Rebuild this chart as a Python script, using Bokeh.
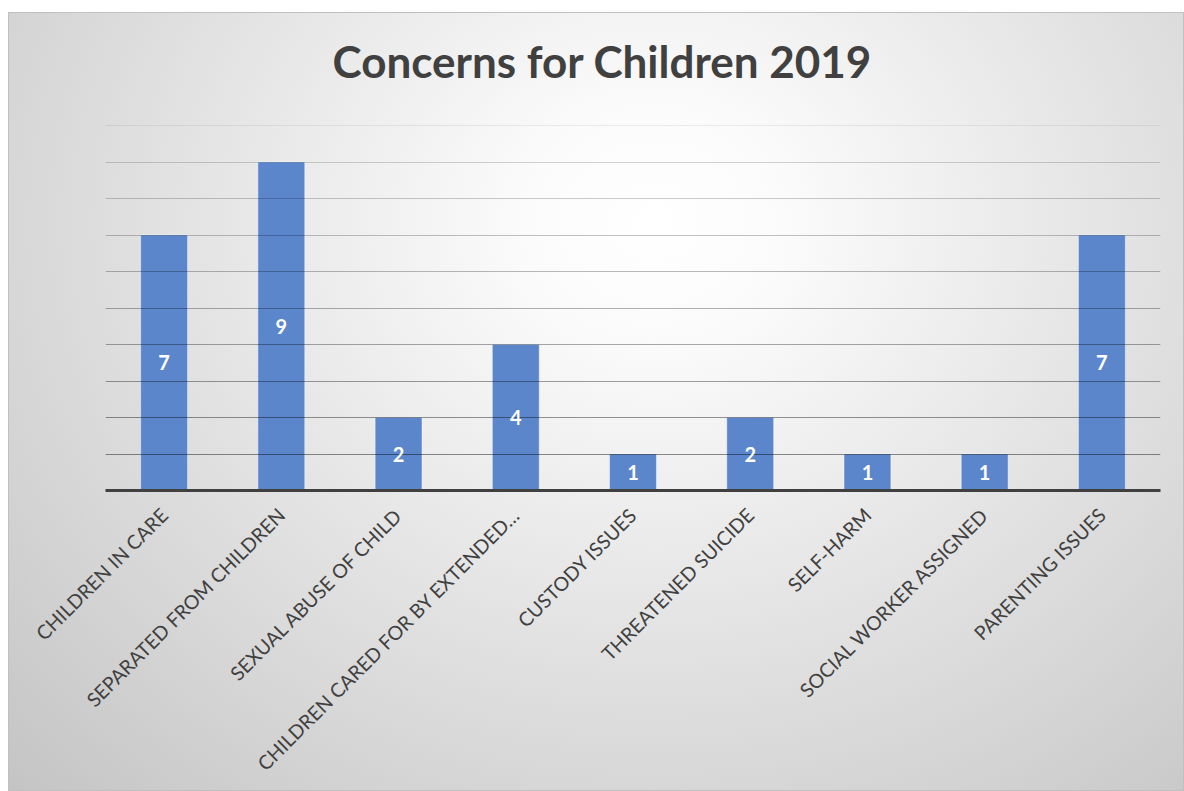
import math
from bokeh.plotting import figure
from bokeh.models import FactorRange, Range1d, Title
from bokeh.core.properties import value
from bokeh.embed import file_html
from bokeh.resources import INLINE

# ---- data ----
categories = [
    "CHILDREN IN CARE",
    "SEPARATED FROM CHILDREN",
    "SEXUAL ABUSE OF CHILD",
    "CHILDREN CARED FOR BY EXTENDED…",
    "CUSTODY ISSUES",
    "THREATENED SUICIDE",
    "SELF-HARM",
    "SOCIAL WORKER ASSIGNED",
    "PARENTING ISSUES",
]
counts = [7, 9, 2, 4, 1, 2, 1, 1, 7]
grid_levels = [1, 2, 3, 4, 5, 6, 7, 8, 9, 10]
y_max = 10
title_text = "Concerns for Children 2019"

FONT = "Lato"
TEXT_COLOR = "#404040"
BAR_COLOR = "#5b86cc"

p = figure(
    x_range=FactorRange(*categories),
    y_range=Range1d(0, y_max),
    width=1176, height=779,
    output_backend="svg", toolbar_location=None,
    min_border_left=97, min_border_right=24,
    min_border_top=113, min_border_bottom=301,
)
p.styles = {
    "margin-top": "12px",
    "margin-left": "8px",
    "background": "radial-gradient(ellipse farthest-corner at 55% 27%, #ffffff 0%, #fbfbfb 14%, #c4c4c4 100%)",
    "box-shadow": "inset 0 0 0 1px #c0c0c0",
}
p.border_fill_color = None
p.background_fill_color = None
p.outline_line_color = None

p.title.text = title_text
p.title.align = "left"
p.title.vertical_align = "top"
p.title.text_font = FONT
p.title.text_font_style = "bold"
p.title.text_font_size = "44px"
p.title.text_color = TEXT_COLOR
p.title.standoff = 0
p.title.offset = 227

# blank spacer panel between title and plot area
spacer = Title(text=" ", text_font_size="1px", standoff=34)
p.add_layout(spacer, "above")

p.xgrid.visible = False
p.ygrid.visible = False
p.yaxis.visible = False

ax = p.xaxis[0]
ax.axis_line_color = TEXT_COLOR
ax.axis_line_width = 3
ax.major_tick_line_color = None
ax.minor_tick_line_color = None
ax.major_label_orientation = math.pi / 4
ax.major_label_text_font = FONT
ax.major_label_text_font_size = "19.5px"
ax.major_label_text_color = TEXT_COLOR
ax.major_label_standoff = 15

p.vbar(x=categories, top=counts, width=0.4,
       fill_color=BAR_COLOR, line_color="#ffffff", line_alpha=0.45, line_width=1)

alphas = [0.44 - 0.034 * i for i in range(len(grid_levels))]
p.hspan(y=grid_levels, line_color="#000000", line_alpha=alphas, line_width=1.2)

p.text(x=categories, y=[c / 2 for c in counts], text=[str(c) for c in counts],
       text_color="#ffffff", text_font=value(FONT), text_font_style="bold",
       text_font_size="20px", text_align="center", text_baseline="middle")

open("out.html", "w").write(file_html(p, INLINE))
